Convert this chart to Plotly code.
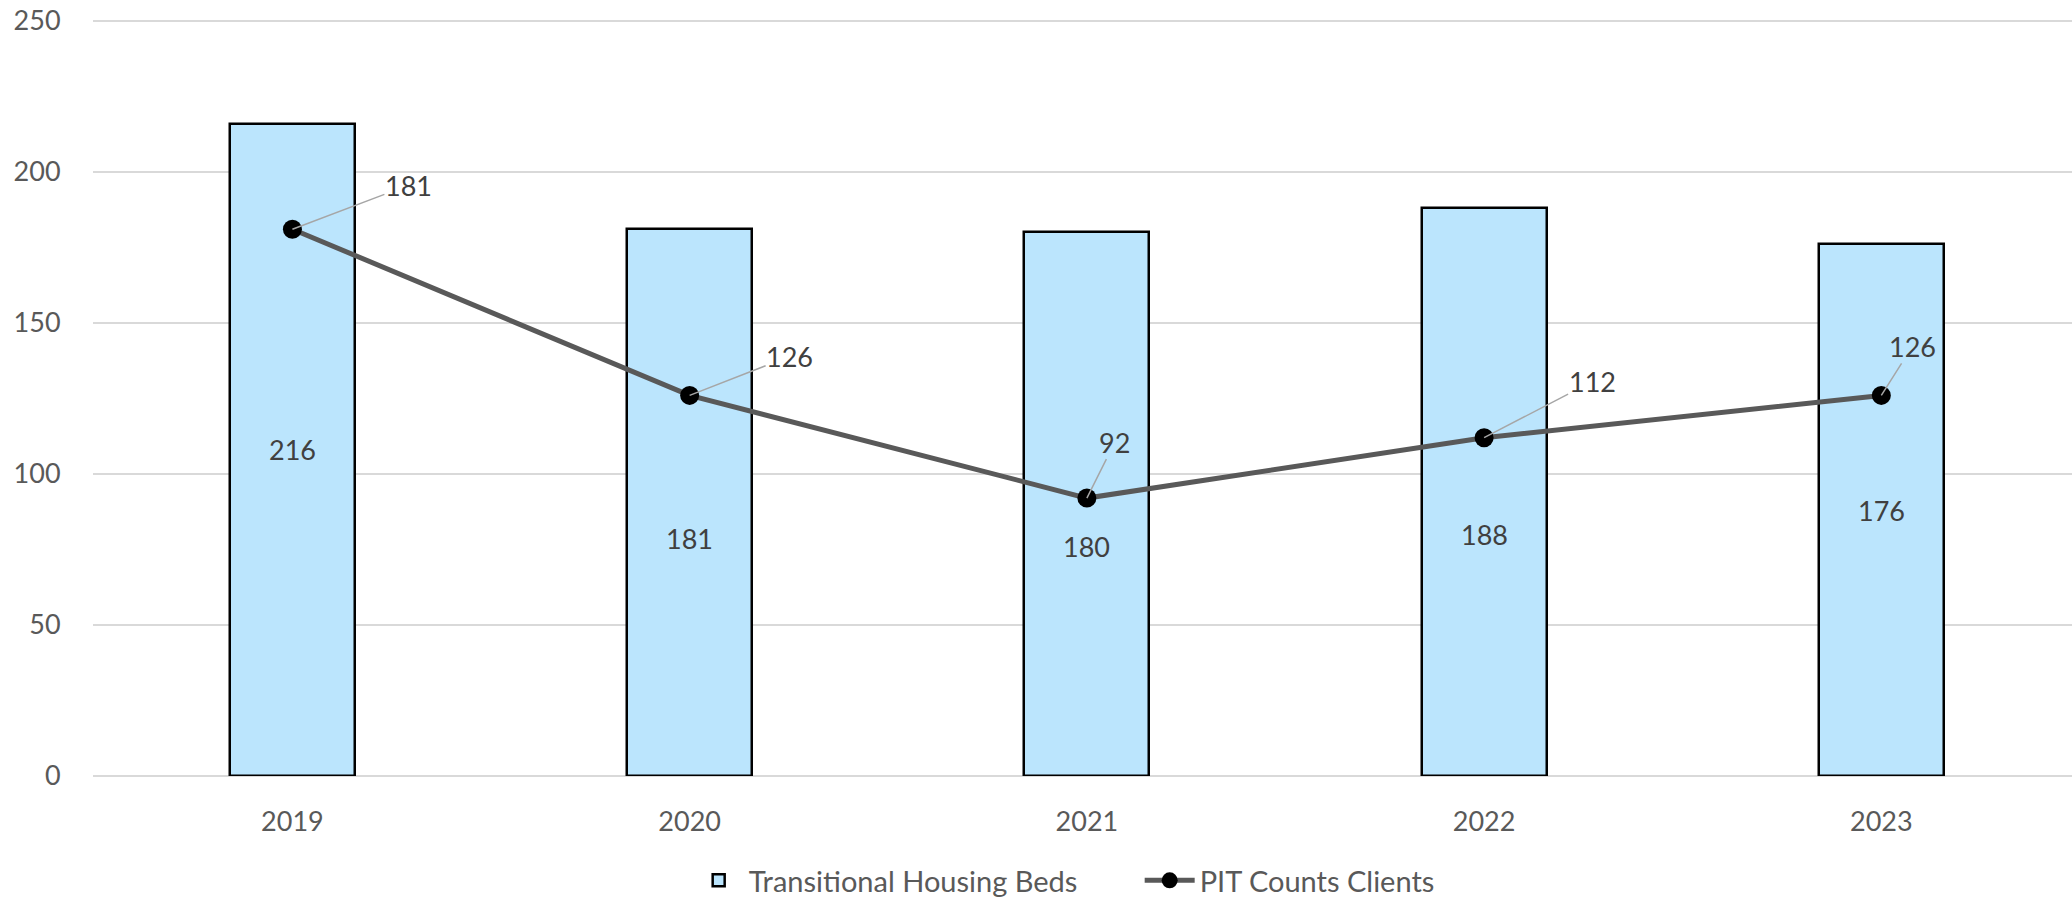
import plotly.graph_objects as go

years = ["2019", "2020", "2021", "2022", "2023"]
beds = [216, 181, 180, 188, 176]
pit = [181, 126, 92, 112, 126]
y_ticks = [0, 50, 100, 150, 200, 250]

# label placement (style): bar label heights (in data units) and PIT label pixel offsets
bed_label_y = [108, 78.5, 76, 80, 88]
pit_label_dx = [116, 100, 28, 108, 31]
pit_label_dy = [-44, -39, -56, -56, -49]

FONT = "Lato"
TICK_COLOR = "#595959"
LABEL_COLOR = "#404040"
FS = 27

fig = go.Figure()
fig.add_trace(go.Bar(
    x=list(range(len(years))), y=beds, name="Transitional Housing Beds",
    marker=dict(color="#BBE5FD", line=dict(color="#000000", width=2.5)),
    width=0.315,
))
fig.add_trace(go.Scatter(
    x=list(range(len(years))), y=pit, name="PIT Counts Clients",
    mode="lines+markers",
    line=dict(color="#595959", width=5),
    marker=dict(color="#000000", size=19),
))

annotations = []
for i, (v, ly) in enumerate(zip(beds, bed_label_y)):
    annotations.append(dict(x=i, y=ly, xref="x", yref="y", text=str(v), showarrow=False,
                            font=dict(family=FONT, size=FS, color=LABEL_COLOR)))
for i, (v, dx, dy) in enumerate(zip(pit, pit_label_dx, pit_label_dy)):
    annotations.append(dict(x=i, y=v, xref="x", yref="y", text=str(v), showarrow=True,
                            ax=dx, ay=dy, arrowhead=0, arrowwidth=1.5, arrowcolor="#A6A6A6",
                            standoff=0, startstandoff=0, borderpad=0,
                            font=dict(family=FONT, size=FS, color=LABEL_COLOR)))

fig.update_layout(
    width=2072, height=897,
    margin=dict(l=93, r=0, t=19, b=121, autoexpand=False),
    paper_bgcolor="white", plot_bgcolor="white",
    font=dict(family=FONT, size=FS, color=TICK_COLOR),
    bargap=0,
    showlegend=True,
    legend=dict(orientation="h", x=0.301, xanchor="left", y=-0.138, yanchor="middle",
                font=dict(family=FONT, size=29, color=TICK_COLOR), itemwidth=50,
                entrywidth=386, entrywidthmode="pixels", tracegroupgap=0),
    annotations=annotations,
    xaxis=dict(
        tickmode="array", tickvals=list(range(len(years))), ticktext=years,
        range=[-0.502, 4.48], showgrid=False, zeroline=False, automargin=False,
        showline=False, ticks="outside", ticklen=22, tickcolor="rgba(0,0,0,0)",
        tickfont=dict(family=FONT, size=FS, color=TICK_COLOR),
    ),
    yaxis=dict(
        range=[0, 250.6], tickmode="array", tickvals=y_ticks, automargin=False,
        ticklabeloverflow="allow",
        showgrid=True, gridcolor="#D9D9D9", gridwidth=2,
        zeroline=True, zerolinecolor="#D9D9D9", zerolinewidth=2,
        ticks="outside", ticklen=26, tickcolor="rgba(0,0,0,0)",
        tickfont=dict(family=FONT, size=FS, color=TICK_COLOR),
    ),
)

# remove the page's default body margin so the figure fills the window exactly
fig.write_html("out.html", config={"displayModeBar": False},
               post_script="document.body.style.margin='0';")
